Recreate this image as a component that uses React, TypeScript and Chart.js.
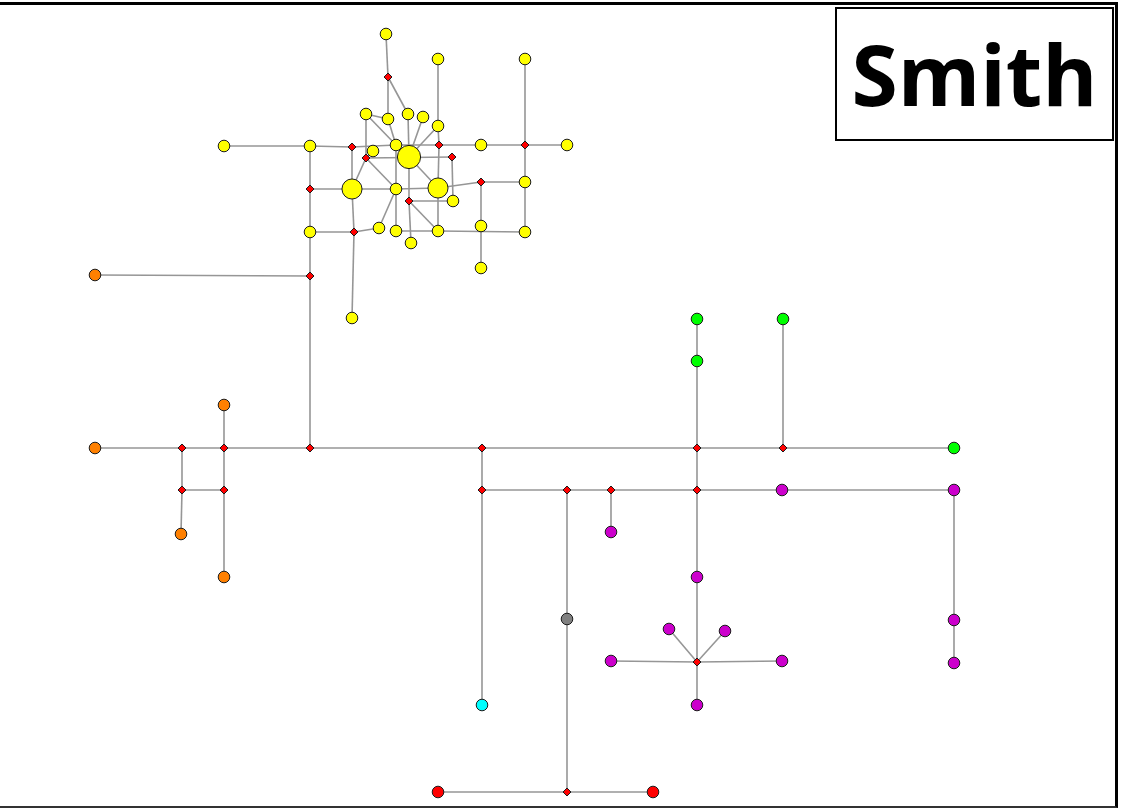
import React, { useEffect, useRef } from "react";
import { Chart, registerables } from "chart.js";
Chart.register(...registerables);

const WIDTH = 1125;
const HEIGHT = 809;
const TITLE = "Smith";

// ---- Haplotype nodes (layout coordinates of the network) ----
const yellowIds = ["Y1","Y2","Y3","Y4","Y5","Y6","Y7","Y8","Y9","Y10","Y11","Y12","B0","Y13","Y14","B1","Y15","B2","Y16","Y17","Y18","Y19","Y20","Y21","Y22","Y23","Y24","Y25","Y26"];
const yellowX = [386,438,525,366,388,408,423,438,224,310,373,396,409,481,567,352,396,438,525,453,310,379,396,438,481,525,411,481,352];
const yellowY = [34,59,59,114,119,114,117,126,146,146,151,145,157,145,145,189,189,188,182,201,232,228,231,231,226,232,243,268,318];
const yellowFreq = [1,1,1,1,1,1,1,1,1,1,1,1,4,1,1,3,1,3,1,1,1,1,1,1,1,1,1,1,1];

const orangeIds = ["O0","O1","O2","O3","O4"];
const orangeX = [95,95,224,181,224];
const orangeY = [275,448,405,534,577];

const greenIds = ["G1","G2","G3","G4"];
const greenX = [697,697,954,783];
const greenY = [319,361,448,319];

const purpleIds = ["P1","P2","P3","P4","P5","P6","P7","P8","P9","P10","P11"];
const purpleX = [782,954,611,697,954,954,669,725,611,782,697];
const purpleY = [490,490,532,577,620,663,629,631,661,661,705];

const cyanIds = ["C1"];
const cyanX = [482];
const cyanY = [705];

const greyIds = ["H1"];
const greyX = [567];
const greyY = [619];

const redIds = ["R1","R2"];
const redX = [438,653];
const redY = [792,792];

// ---- Median vectors ----
const medianIds = ["M1","M2","M3","M4","M5","M6","M7","M8","M9","M10","M11","M12","M13","M14","M15","M16","M17","M18","M19","M20","M21","M22","M23","M24","M25"];
const medianX = [388,352,366,439,525,452,310,481,409,354,310,182,224,310,482,697,783,224,182,697,697,482,567,611,567];
const medianY = [77,147,158,145,145,157,189,182,201,232,276,448,448,448,448,448,448,490,490,490,662,490,490,490,792];

// ---- Links ----
const edges: [string, string][] = [
  ["Y1","M1"],["M1","Y5"],["M1","Y6"],
  ["Y2","Y8"],["Y8","M4"],["M4","B2"],["B2","Y21"],
  ["Y3","M5"],["M5","Y16"],["Y16","Y23"],
  ["Y9","Y10"],["Y10","M2"],["M2","Y12"],["Y12","M4"],["M4","Y13"],["Y13","M5"],["M5","Y14"],
  ["Y10","M7"],["M7","Y18"],["Y18","M11"],["M11","M14"],["M11","O0"],
  ["Y4","Y5"],["Y4","M3"],["Y4","Y12"],["Y5","Y12"],["Y6","B0"],["Y7","B0"],["Y8","B0"],
  ["M3","M6"],["M6","Y17"],["M3","B1"],["M3","Y15"],["M3","Y11"],
  ["M2","B1"],["B1","M10"],["M10","Y26"],
  ["M7","B1"],["B1","Y15"],["Y15","B2"],["B2","M8"],["M8","Y16"],
  ["Y12","Y15"],["Y15","Y20"],["Y15","Y19"],
  ["B0","M9"],["M9","Y24"],["M9","Y17"],["M9","Y21"],["B0","B2"],
  ["Y18","M10"],["M10","Y19"],["Y20","Y21"],["Y21","Y23"],["M8","Y22"],["Y22","Y25"],
  ["O1","M12"],["M12","M13"],["M13","M14"],["M14","M15"],["M15","M16"],["M16","M17"],["M17","G3"],
  ["O2","M13"],["M13","M18"],["M18","O4"],["M12","M19"],["M19","O3"],["M19","M18"],
  ["G1","G2"],["G2","M16"],["M16","M20"],["M20","P4"],["P4","M21"],["M21","P11"],
  ["G4","M17"],
  ["M15","M22"],["M22","C1"],
  ["M22","M23"],["M23","M24"],["M24","M20"],["M20","P1"],["P1","P2"],["P2","P5"],["P5","P6"],
  ["M24","P3"],
  ["M23","H1"],["H1","M25"],["R1","M25"],["M25","R2"],
  ["M21","P9"],["M21","P10"],["M21","P7"],["M21","P8"],
];

function pts(ids: string[], xs: number[], ys: number[]) {
  return ids.map((id, i) => ({ x: xs[i], y: ys[i], id }));
}

export default function App() {
  const ref = useRef<HTMLCanvasElement | null>(null);

  useEffect(() => {
    const canvas = ref.current;
    if (!canvas) return;

    const pos: Record<string, { x: number; y: number }> = {};
    const addPos = (ids: string[], xs: number[], ys: number[]) =>
      ids.forEach((id, i) => (pos[id] = { x: xs[i], y: ys[i] }));
    addPos(yellowIds, yellowX, yellowY);
    addPos(orangeIds, orangeX, orangeY);
    addPos(greenIds, greenX, greenY);
    addPos(purpleIds, purpleX, purpleY);
    addPos(cyanIds, cyanX, cyanY);
    addPos(greyIds, greyX, greyY);
    addPos(redIds, redX, redY);
    addPos(medianIds, medianX, medianY);

    const edgeSets: any[] = edges.map(([a, b]) => ({
      data: [pos[a], pos[b]],
      showLine: true,
      pointRadius: 0,
      borderColor: "rgb(150,150,150)",
      borderWidth: 1.6,
      clip: false,
      order: 3,
    }));

    const hap = (data: any[], color: string, radius: number | number[]) => ({
      data,
      backgroundColor: color,
      borderColor: "#1a1a1a",
      borderWidth: 1,
      pointRadius: radius,
      pointStyle: "circle",
      clip: false,
      order: 1,
    });

    const datasets: any[] = [
      ...edgeSets,
      {
        data: pts(medianIds, medianX, medianY),
        backgroundColor: "#ff0000",
        borderColor: "#1a1a1a",
        borderWidth: 1,
        pointRadius: 4,
        pointStyle: "rectRot",
        clip: false,
        order: 2,
      },
      hap(pts(yellowIds, yellowX, yellowY), "#ffff00", yellowFreq.map((f) => 5.8 * Math.sqrt(f))),
      hap(pts(orangeIds, orangeX, orangeY), "#ff8000", 5.8),
      hap(pts(greenIds, greenX, greenY), "#00ff00", 5.8),
      hap(pts(purpleIds, purpleX, purpleY), "#cc00cc", 5.8),
      hap(pts(cyanIds, cyanX, cyanY), "#00ffff", 5.8),
      hap(pts(greyIds, greyX, greyY), "#808080", 5.8),
      hap(pts(redIds, redX, redY), "#ff0000", 5.8),
    ];

    const chart = new Chart(canvas, {
      type: "scatter",
      data: { datasets },
      options: {
        responsive: false,
        animation: false,
        events: [],
        layout: { padding: 0, autoPadding: false },
        plugins: {
          legend: { display: false },
          tooltip: { enabled: false },
          title: { display: false },
        },
        scales: {
          x: { type: "linear", min: 0, max: WIDTH, display: false },
          y: { type: "linear", min: 0, max: HEIGHT, reverse: true, display: false },
        },
      },
    });
    return () => chart.destroy();
  }, []);

  return (
    <div style={{ position: "fixed", left: 0, top: 0, width: WIDTH, height: HEIGHT, background: "#fff", overflow: "hidden" }}>
      <canvas ref={ref} width={WIDTH} height={HEIGHT} style={{ position: "absolute", left: 0, top: 0, display: "block" }} />
      <div
        style={{
          position: "absolute",
          left: -3,
          top: 2,
          width: 1121,
          height: 806,
          boxSizing: "border-box",
          borderTop: "3px solid #000",
          borderRight: "3px solid #000",
          borderBottom: "2px solid #333",
          pointerEvents: "none",
        }}
      />
      <div
        style={{
          position: "absolute",
          left: 835,
          top: 7,
          width: 279,
          height: 134,
          boxSizing: "border-box",
          border: "2px solid #000",
          background: "#fff",
          display: "flex",
          alignItems: "center",
          justifyContent: "center",
          fontFamily: "'Open Sans', sans-serif",
          fontWeight: 700,
          fontSize: 84,
          lineHeight: 1,
          color: "#000",
        }}
      >
        <span style={{ marginTop: 0 }}>{TITLE}</span>
      </div>
    </div>
  );
}
